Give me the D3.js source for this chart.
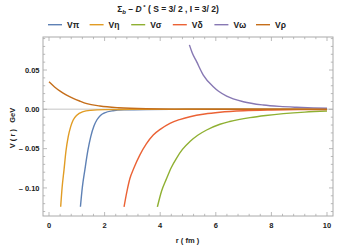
<!DOCTYPE html>
<html>
<head>
<meta charset="utf-8">
<script src="https://cdn.jsdelivr.net/npm/d3@7"></script>
<style>
  body { margin: 0; background: #fff; }
  svg { display: block; font-family: "Liberation Sans", Arial, sans-serif; }
</style>
</head>
<body>
<svg id="chart" width="338" height="246"></svg>
<script>
'use strict';

// values, r in fm, V in GeV
var seriesNames = ['Vπ', 'Vη', 'Vσ', 'Vδ', 'Vω', 'Vρ']
var seriesColors = ['#5e81b5', '#e19c24', '#8fb032', '#eb6235', '#8778b3', '#c56e1a']

var rPi = [1.13, 1.2, 1.29, 1.4, 1.5, 1.62, 1.72, 1.85, 2.0, 2.3, 2.7, 3.5, 5, 7, 10]
var vPi = [-0.124, -0.099, -0.077, -0.052, -0.035, -0.021, -0.0136, -0.0078, -0.0045, -0.0018, -0.0007, -0.0002, 0, 0, 0]

var rEta = [0.42, 0.47, 0.54, 0.61, 0.69, 0.78, 0.87, 1.0, 1.23, 1.5, 2.0, 3.0, 5, 10]
var vEta = [-0.124, -0.1, -0.077, -0.053, -0.035, -0.022, -0.0136, -0.0075, -0.003, -0.0013, -0.0004, -0.0001, 0, 0]

var rSigma = [3.9, 4.05, 4.23, 4.4, 4.59, 4.8, 5.07, 5.35, 5.67, 6.15, 6.5, 7.23, 7.8, 8.43, 9.2, 10]
var vSigma = [-0.124, -0.104, -0.088, -0.074, -0.062, -0.051, -0.041, -0.033, -0.0263, -0.019, -0.0155, -0.0105, -0.0078, -0.0055, -0.0035, -0.0022]

var rDelta = [2.7, 2.8, 2.91, 3.05, 3.27, 3.5, 3.75, 4.0, 4.35, 4.7, 5.07, 5.6, 6.15, 7, 8, 9, 10]
var vDelta = [-0.124, -0.105, -0.088, -0.075, -0.058, -0.044, -0.0327, -0.0255, -0.0178, -0.013, -0.0094, -0.006, -0.0038, -0.0019, -0.0009, -0.0004, -0.0002]

var rOmega = [5.05, 5.15, 5.31, 5.55, 5.91, 6.1, 6.39, 6.99, 7.71, 8.3, 8.9, 9.5, 10]
var vOmega = [0.082, 0.072, 0.0606, 0.0436, 0.0288, 0.023, 0.0169, 0.0097, 0.0055, 0.0037, 0.0026, 0.0018, 0.0013]

var rRho = [0, 0.2, 0.4, 0.6, 0.87, 1.1, 1.36, 1.83, 2.5, 3.5, 5, 7, 10]
var vRho = [0.035, 0.0285, 0.0232, 0.0188, 0.014, 0.0106, 0.0072, 0.0042, 0.002, 0.0007, 0.0002, 0, 0]

var xTicks = [0, 2, 4, 6, 8, 10]
var yTicks = [0.05, 0, -0.05, -0.1]
var yTickLabels = ['0.05', '0.00', '– 0.05', '– 0.10']

var seriesR = [rPi, rEta, rSigma, rDelta, rOmega, rRho]
var seriesV = [vPi, vEta, vSigma, vDelta, vOmega, vRho]

var zip = function(a, b) {
  return a.map(function(a, i) { return [a, b[i]] })
}

var svg = d3.select('#chart')
  , pLeft = 43, pRight = 333, pTop = 37, pBottom = 216
  , frameColor = '#aaa'
  , textColor = '#222'

var x = d3.scaleLinear().domain([-0.216, 10.216]).range([pLeft, pRight])
var y = d3.scaleLinear().domain([-0.1357, 0.092]).range([pBottom, pTop])

svg.append('clipPath').attr('id', 'plotclip')
  .append('rect')
  .attr('x', pLeft).attr('y', pTop)
  .attr('width', pRight - pLeft).attr('height', pBottom - pTop)

// zero line
svg.append('line')
  .attr('x1', pLeft).attr('x2', pRight)
  .attr('y1', y(0)).attr('y2', y(0))
  .attr('stroke', '#d8d8d8')
  .attr('stroke-width', 1.5)

// frame ticks, all four sides pointing inward
var minorX = d3.range(0, 10.01, 0.4).filter(function(d) { return Math.abs(d / 2 - Math.round(d / 2)) > 0.01 })
var minorY = d3.range(-0.13, 0.091, 0.01).filter(function(d) { return Math.abs(d / 0.05 - Math.round(d / 0.05)) > 0.01 })
var tickG = svg.append('g').attr('stroke', frameColor).attr('stroke-width', 0.8)

function xTick(g, v, len) {
  g.append('line').attr('x1', x(v)).attr('x2', x(v)).attr('y1', pBottom).attr('y2', pBottom - len)
  g.append('line').attr('x1', x(v)).attr('x2', x(v)).attr('y1', pTop).attr('y2', pTop + len)
}
function yTick(g, v, len) {
  g.append('line').attr('y1', y(v)).attr('y2', y(v)).attr('x1', pLeft).attr('x2', pLeft + len)
  g.append('line').attr('y1', y(v)).attr('y2', y(v)).attr('x1', pRight).attr('x2', pRight - len)
}
xTicks.forEach(function(d) { xTick(tickG, d, 4) })
minorX.forEach(function(d) { xTick(tickG, d, 2.2) })
yTicks.forEach(function(d) { yTick(tickG, d, 4) })
minorY.forEach(function(d) { yTick(tickG, d, 2.2) })

svg.append('rect')
  .attr('x', pLeft).attr('y', pTop)
  .attr('width', pRight - pLeft).attr('height', pBottom - pTop)
  .attr('fill', 'none')
  .attr('stroke', frameColor)
  .attr('stroke-width', 1)

// curves
var line = d3.line()
  .x(function(d) { return x(d[0]) })
  .y(function(d) { return y(d[1]) })
  .curve(d3.curveMonotoneX)

var curves = svg.append('g').attr('clip-path', 'url(#plotclip)')
seriesNames.forEach(function(name, i) {
  curves.append('path')
    .datum(zip(seriesR[i], seriesV[i]))
    .attr('d', line)
    .attr('fill', 'none')
    .attr('stroke', seriesColors[i])
    .attr('stroke-width', 1.4)
})

// tick labels
svg.append('g').selectAll('text').data(xTicks).enter().append('text')
  .attr('x', function(d) { return x(d) })
  .attr('y', 228)
  .attr('text-anchor', 'middle')
  .attr('font-size', 7.5)
  .attr('font-weight', 'bold')
  .attr('fill', textColor)
  .text(function(d) { return d })

svg.append('g').selectAll('text').data(yTicks).enter().append('text')
  .attr('x', 39.5)
  .attr('y', function(d) { return y(d) + 2.7 })
  .attr('text-anchor', 'end')
  .attr('font-size', 7.5)
  .attr('font-weight', 'bold')
  .attr('fill', textColor)
  .text(function(d, i) { return yTickLabels[i] })

// axis labels
svg.append('text')
  .attr('x', 187.5).attr('y', 243)
  .attr('text-anchor', 'middle')
  .attr('font-size', 7.5)
  .attr('font-weight', 'bold')
  .attr('fill', textColor)
  .text('r ( fm )')

svg.append('text')
  .attr('transform', 'translate(' + [14.5, 128] + ') rotate(-90)')
  .attr('text-anchor', 'middle')
  .attr('font-size', 7.5)
  .attr('font-weight', 'bold')
  .attr('fill', textColor)
  .attr('xml:space', 'preserve')
  .text('V ( r )   GeV')

// title
var title = svg.append('text')
  .attr('x', 168).attr('y', 12)
  .attr('text-anchor', 'middle')
  .attr('font-size', 8.5)
  .attr('font-weight', 'bold')
  .attr('fill', textColor)
title.append('tspan').text('Σ')
title.append('tspan').attr('font-size', 6).attr('dy', 2).attr('font-style', 'italic').text('b')
title.append('tspan').attr('dy', -2).text(' – ')
title.append('tspan').attr('font-style', 'italic').text('D')
title.append('tspan').attr('font-size', 6).attr('dy', -3).text(' *')
title.append('tspan').attr('dy', 3).text(' ( S = 3/ 2 ,  I = 3/ 2)')

// legend
var legend = svg.append('g')
seriesNames.forEach(function(name, i) {
  var lx = 48 + i * 41.6
  legend.append('line')
    .attr('x1', lx).attr('x2', lx + 14)
    .attr('y1', 24.7).attr('y2', 24.7)
    .attr('stroke', seriesColors[i])
    .attr('stroke-width', 1.4)
  legend.append('text')
    .attr('x', lx + 19).attr('y', 27.8)
    .attr('font-size', 8.5)
    .attr('font-weight', 'bold')
    .attr('fill', textColor)
    .text(name)
})
</script>
</body>
</html>
